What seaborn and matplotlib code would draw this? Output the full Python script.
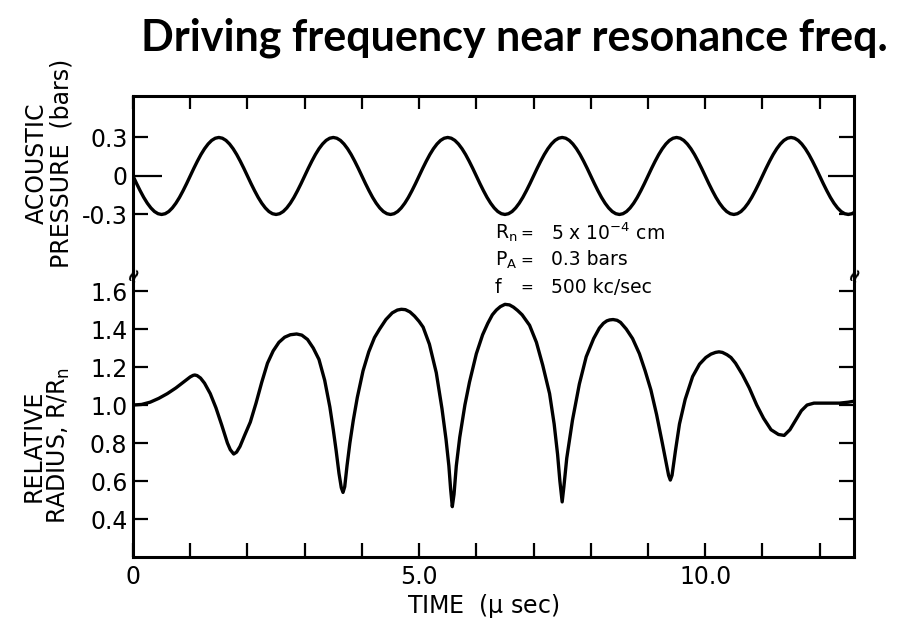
import matplotlib
matplotlib.use("Agg")
import matplotlib.pyplot as plt
import pandas as pd
import seaborn as sns

# ---- data -------------------------------------------------------------
# driving acoustic pressure (bars), sampled every 0.0625 microseconds
time_p = [i * 0.0625 for i in range(202)] + [12.6]
pressure = [
    0.0, -0.059, -0.115, -0.167, -0.212, -0.249, -0.277, -0.294,
    -0.30, -0.294, -0.277, -0.249, -0.212, -0.167, -0.115, -0.059,
    0.0, 0.059, 0.115, 0.167, 0.212, 0.249, 0.277, 0.294,
    0.30, 0.294, 0.277, 0.249, 0.212, 0.167, 0.115, 0.059,
    0.0, -0.059, -0.115, -0.167, -0.212, -0.249, -0.277, -0.294,
    -0.30, -0.294, -0.277, -0.249, -0.212, -0.167, -0.115, -0.059,
    0.0, 0.059, 0.115, 0.167, 0.212, 0.249, 0.277, 0.294,
    0.30, 0.294, 0.277, 0.249, 0.212, 0.167, 0.115, 0.059,
    0.0, -0.059, -0.115, -0.167, -0.212, -0.249, -0.277, -0.294,
    -0.30, -0.294, -0.277, -0.249, -0.212, -0.167, -0.115, -0.059,
    0.0, 0.059, 0.115, 0.167, 0.212, 0.249, 0.277, 0.294,
    0.30, 0.294, 0.277, 0.249, 0.212, 0.167, 0.115, 0.059,
    0.0, -0.059, -0.115, -0.167, -0.212, -0.249, -0.277, -0.294,
    -0.30, -0.294, -0.277, -0.249, -0.212, -0.167, -0.115, -0.059,
    0.0, 0.059, 0.115, 0.167, 0.212, 0.249, 0.277, 0.294,
    0.30, 0.294, 0.277, 0.249, 0.212, 0.167, 0.115, 0.059,
    0.0, -0.059, -0.115, -0.167, -0.212, -0.249, -0.277, -0.294,
    -0.30, -0.294, -0.277, -0.249, -0.212, -0.167, -0.115, -0.059,
    0.0, 0.059, 0.115, 0.167, 0.212, 0.249, 0.277, 0.294,
    0.30, 0.294, 0.277, 0.249, 0.212, 0.167, 0.115, 0.059,
    0.0, -0.059, -0.115, -0.167, -0.212, -0.249, -0.277, -0.294,
    -0.30, -0.294, -0.277, -0.249, -0.212, -0.167, -0.115, -0.059,
    0.0, 0.059, 0.115, 0.167, 0.212, 0.249, 0.277, 0.294,
    0.30, 0.294, 0.277, 0.249, 0.212, 0.167, 0.115, 0.059,
    0.0, -0.059, -0.115, -0.167, -0.212, -0.249, -0.277, -0.294,
    -0.30, -0.294, -0.285,
]

# relative bubble radius R/Rn
time_r = [
    0.00, 0.15, 0.30, 0.45, 0.60, 0.75, 0.90, 1.00, 1.05, 1.08,
    1.12, 1.18, 1.25, 1.35, 1.45, 1.55, 1.65, 1.70, 1.76, 1.81,
    1.87, 1.95, 2.05, 2.15, 2.25, 2.35, 2.45, 2.55, 2.65, 2.75,
    2.86, 2.95, 3.05, 3.15, 3.25, 3.35, 3.44, 3.50, 3.55, 3.60,
    3.64, 3.67, 3.70, 3.74, 3.79, 3.85, 3.92, 4.02, 4.12, 4.22,
    4.31, 4.42, 4.53, 4.62, 4.69, 4.76, 4.84, 4.92, 5.00, 5.07,
    5.18, 5.30, 5.40, 5.47, 5.52, 5.55, 5.58, 5.61, 5.65, 5.71,
    5.80, 5.88, 6.00, 6.11, 6.20, 6.28, 6.35, 6.42, 6.50, 6.58,
    6.65, 6.72, 6.80, 6.93, 7.05, 7.16, 7.28, 7.36, 7.42, 7.46,
    7.50, 7.53, 7.58, 7.68, 7.80, 7.92, 8.05, 8.15, 8.22, 8.28,
    8.33, 8.39, 8.46, 8.52, 8.62, 8.73, 8.85, 8.95, 9.05, 9.15,
    9.25, 9.32, 9.36, 9.39, 9.42, 9.48, 9.55, 9.65, 9.78, 9.90,
    10.01, 10.10, 10.18, 10.24, 10.30, 10.38, 10.45, 10.53, 10.65, 10.77,
    10.90, 11.02, 11.15, 11.28, 11.38, 11.48, 11.58, 11.68, 11.78, 11.90,
    12.05, 12.20, 12.35, 12.50, 12.60,
]
radius = [
    1.000, 1.003, 1.015, 1.035, 1.060, 1.090, 1.125, 1.148, 1.156, 1.158,
    1.155, 1.142, 1.115, 1.060, 0.985, 0.895, 0.800, 0.765, 0.742, 0.752,
    0.782, 0.840, 0.910, 1.010, 1.120, 1.220, 1.285, 1.330, 1.357, 1.370,
    1.374, 1.368, 1.345, 1.300, 1.240, 1.130, 0.990, 0.870, 0.760, 0.640,
    0.565, 0.540, 0.570, 0.680, 0.800, 0.920, 1.040, 1.180, 1.280, 1.355,
    1.400, 1.450, 1.485, 1.500, 1.504, 1.502, 1.490, 1.468, 1.440, 1.410,
    1.320, 1.170, 0.980, 0.820, 0.680, 0.560, 0.465, 0.530, 0.680, 0.830,
    1.000, 1.120, 1.270, 1.370, 1.430, 1.475, 1.500, 1.518, 1.530, 1.527,
    1.515, 1.498, 1.475, 1.420, 1.330, 1.210, 1.060, 0.900, 0.740, 0.600,
    0.490, 0.570, 0.720, 0.920, 1.110, 1.254, 1.350, 1.405, 1.430, 1.443,
    1.448, 1.450, 1.446, 1.435, 1.400, 1.350, 1.270, 1.180, 1.080, 0.950,
    0.800, 0.690, 0.630, 0.605, 0.630, 0.760, 0.900, 1.030, 1.150, 1.215,
    1.250, 1.268, 1.277, 1.280, 1.277, 1.265, 1.250, 1.220, 1.160, 1.090,
    1.000, 0.930, 0.870, 0.845, 0.840, 0.870, 0.920, 0.970, 1.000, 1.010,
    1.010, 1.010, 1.010, 1.015, 1.020,
]

x_ticks = list(range(0, 13))
x_tick_labels = ["0", "", "", "", "", "5.0", "", "", "", "", "10.0", "", ""]
p_ticks = [-0.3, 0.0, 0.3]
p_tick_labels = ["-0.3", "0", "0.3"]
r_ticks = [0.4, 0.6, 0.8, 1.0, 1.2, 1.4, 1.6]
r_tick_labels = ["0.4", "0.6", "0.8", "1.0", "1.2", "1.4", "1.6"]

df_p = pd.DataFrame({"time": time_p, "pressure": pressure})
df_r = pd.DataFrame({"time": time_r, "radius": radius})

# ---- style ------------------------------------------------------------
sns.set_style("ticks")
plt.rcParams["font.family"] = ["DejaVu Sans"]
plt.rcParams["mathtext.default"] = "regular"
plt.rcParams["axes.linewidth"] = 2.2
plt.rcParams["text.color"] = "black"
plt.rcParams["xtick.color"] = "black"
plt.rcParams["ytick.color"] = "black"
plt.rcParams["xtick.labelcolor"] = "black"
plt.rcParams["ytick.labelcolor"] = "black"

W, H = 900, 625
fig = plt.figure(figsize=(W / 100, H / 100), dpi=100)


def px_box(x0, y0, x1, y1):
    return [x0 / W, 1 - y1 / H, (x1 - x0) / W, (y1 - y0) / H]


ax_p = fig.add_axes(px_box(133, 96, 854, 273))
ax_r = fig.add_axes(px_box(133, 273, 854, 557))

line_kw = dict(color="black", linewidth=2.4, estimator=None, sort=False,
               legend=False, solid_joinstyle="round", solid_capstyle="round")
sns.lineplot(data=df_p, x="time", y="pressure", ax=ax_p, **line_kw)
sns.lineplot(data=df_r, x="time", y="radius", ax=ax_r, **line_kw)

for ax in (ax_p, ax_r):
    ax.set_xlim(0, 12.6)
    ax.set_xlabel("")
    ax.set_ylabel("")
    for s in ax.spines.values():
        s.set_linewidth(2.2)
        s.set_color("black")

ax_p.set_ylim(-0.756, 0.623)
ax_r.set_ylim(0.2, 1.695)
ax_p.spines["bottom"].set_visible(False)
ax_r.spines["top"].set_visible(False)

TICK_FS = 17

# upper panel: ticks on top and both sides
ax_p.set_xticks(x_ticks)
ax_p.tick_params(axis="x", which="both", direction="in", top=True, bottom=False,
                 labelbottom=False, labeltop=False, length=9, width=1.6)
ax_p.set_yticks(p_ticks)
ax_p.set_yticklabels(p_tick_labels)
ax_p.tick_params(axis="y", direction="in", left=True, right=True, length=11,
                 width=1.6, labelsize=TICK_FS, pad=4)
for tk, val in zip(ax_p.yaxis.get_major_ticks(), p_ticks):
    if val == 0:
        tk.tick1line.set_markersize(21)
        tk.tick2line.set_markersize(19)

# lower panel
ax_r.set_xticks(x_ticks)
ax_r.set_xticklabels(x_tick_labels)
ax_r.tick_params(axis="x", direction="in", top=False, bottom=True, length=10,
                 width=1.6, labelsize=TICK_FS, pad=6)
ax_r.set_yticks(r_ticks)
ax_r.set_yticklabels(r_tick_labels)
ax_r.tick_params(axis="y", direction="in", left=True, right=True, length=11,
                 width=1.6, labelsize=TICK_FS, pad=4)


def fx(px):
    return px / W


def fy(py):
    return 1 - py / H


# axis titles
fig.text(fx(49), fy(163), "ACOUSTIC\nPRESSURE  (bars)", rotation=90,
         ha="center", va="center", multialignment="center", fontsize=17,
         linespacing=1.0)
fig.text(fx(47), fy(446), "RELATIVE\nRADIUS, R/R$_n$", rotation=90,
         ha="center", va="center", multialignment="center", fontsize=17,
         linespacing=1.0)
fig.text(fx(483), fy(606), "TIME  ($\\mu$ sec)", ha="center", va="center",
         fontsize=17)

# break marks on the vertical axes
for xb in (133, 854):
    fig.text(fx(xb), fy(273), "≈", ha="center", va="center", fontsize=14,
             fontweight="bold", rotation=70)

# parameters
rows = [("R$_n$", "5 x 10$^{-4}$ cm", 233),
        ("P$_A$", "0.3 bars", 260),
        ("f", "500 kc/sec", 287)]
for lab, val, yy in rows:
    fig.text(fx(495), fy(yy), lab, ha="left", va="center", fontsize=13.5)
    fig.text(fx(527), fy(yy), "=", ha="center", va="center", fontsize=11)
    fig.text(fx(551), fy(yy), val, ha="left", va="center", fontsize=13.5)

fig.text(fx(888), fy(51), "Driving frequency near resonance freq.",
         ha="right", va="baseline", fontsize=31, fontweight="bold",
         family=["Lato", "DejaVu Sans"])

fig.savefig("out.png", dpi=100, facecolor="white")
